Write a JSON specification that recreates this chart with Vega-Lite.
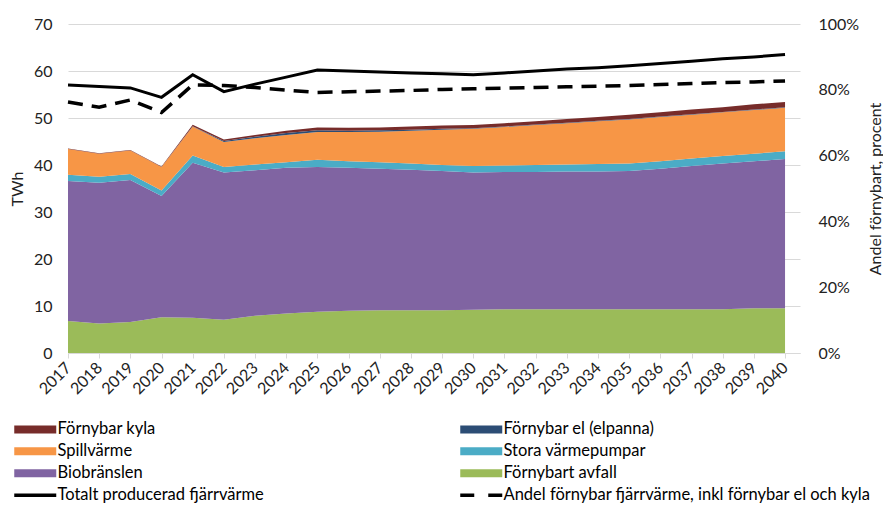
{
  "$schema": "https://vega.github.io/schema/vega-lite/v6.json",
  "width": 732,
  "height": 329,
  "autosize": "none",
  "padding": {"left": 68, "top": 24, "right": 83, "bottom": 152},
  "config": {
    "view": {"stroke": null},
    "font": "Lato",
    "axis": {"labelFont": "Lato", "titleFont": "Lato", "labelFontSize": 16, "titleFontSize": 16, "labelColor": "#222", "titleColor": "#222", "titleFontWeight": "normal"}
  },
  "datasets": {
    "stack": [
      {"year":2017,"series":"Förnybart avfall","value":6.8,"k":1},{"year":2017,"series":"Biobränslen","value":29.8,"k":2},{"year":2017,"series":"Stora värmepumpar","value":1.3,"k":3},{"year":2017,"series":"Spillvärme","value":5.5,"k":4},{"year":2017,"series":"Förnybar el (elpanna)","value":0,"k":5},{"year":2017,"series":"Förnybar kyla","value":0.1,"k":6},
      {"year":2018,"series":"Förnybart avfall","value":6.3,"k":1},{"year":2018,"series":"Biobränslen","value":29.9,"k":2},{"year":2018,"series":"Stora värmepumpar","value":1.3,"k":3},{"year":2018,"series":"Spillvärme","value":4.9,"k":4},{"year":2018,"series":"Förnybar el (elpanna)","value":0,"k":5},{"year":2018,"series":"Förnybar kyla","value":0.1,"k":6},
      {"year":2019,"series":"Förnybart avfall","value":6.6,"k":1},{"year":2019,"series":"Biobränslen","value":30.2,"k":2},{"year":2019,"series":"Stora värmepumpar","value":1.3,"k":3},{"year":2019,"series":"Spillvärme","value":5.0,"k":4},{"year":2019,"series":"Förnybar el (elpanna)","value":0,"k":5},{"year":2019,"series":"Förnybar kyla","value":0.1,"k":6},
      {"year":2020,"series":"Förnybart avfall","value":7.6,"k":1},{"year":2020,"series":"Biobränslen","value":25.8,"k":2},{"year":2020,"series":"Stora värmepumpar","value":1.2,"k":3},{"year":2020,"series":"Spillvärme","value":5.0,"k":4},{"year":2020,"series":"Förnybar el (elpanna)","value":0,"k":5},{"year":2020,"series":"Förnybar kyla","value":0.1,"k":6},
      {"year":2021,"series":"Förnybart avfall","value":7.5,"k":1},{"year":2021,"series":"Biobränslen","value":33.0,"k":2},{"year":2021,"series":"Stora värmepumpar","value":1.5,"k":3},{"year":2021,"series":"Spillvärme","value":6.2,"k":4},{"year":2021,"series":"Förnybar el (elpanna)","value":0.05,"k":5},{"year":2021,"series":"Förnybar kyla","value":0.3,"k":6},
      {"year":2022,"series":"Förnybart avfall","value":7.1,"k":1},{"year":2022,"series":"Biobränslen","value":31.3,"k":2},{"year":2022,"series":"Stora värmepumpar","value":1.2,"k":3},{"year":2022,"series":"Spillvärme","value":5.3,"k":4},{"year":2022,"series":"Förnybar el (elpanna)","value":0.2,"k":5},{"year":2022,"series":"Förnybar kyla","value":0.3,"k":6},
      {"year":2023,"series":"Förnybart avfall","value":7.9,"k":1},{"year":2023,"series":"Biobränslen","value":31.0,"k":2},{"year":2023,"series":"Stora värmepumpar","value":1.2,"k":3},{"year":2023,"series":"Spillvärme","value":5.6,"k":4},{"year":2023,"series":"Förnybar el (elpanna)","value":0.3,"k":5},{"year":2023,"series":"Förnybar kyla","value":0.4,"k":6},
      {"year":2024,"series":"Förnybart avfall","value":8.4,"k":1},{"year":2024,"series":"Biobränslen","value":31.0,"k":2},{"year":2024,"series":"Stora värmepumpar","value":1.2,"k":3},{"year":2024,"series":"Spillvärme","value":5.8,"k":4},{"year":2024,"series":"Förnybar el (elpanna)","value":0.4,"k":5},{"year":2024,"series":"Förnybar kyla","value":0.5,"k":6},
      {"year":2025,"series":"Förnybart avfall","value":8.8,"k":1},{"year":2025,"series":"Biobränslen","value":30.8,"k":2},{"year":2025,"series":"Stora värmepumpar","value":1.5,"k":3},{"year":2025,"series":"Spillvärme","value":5.9,"k":4},{"year":2025,"series":"Förnybar el (elpanna)","value":0.4,"k":5},{"year":2025,"series":"Förnybar kyla","value":0.6,"k":6},
      {"year":2026,"series":"Förnybart avfall","value":9.0,"k":1},{"year":2026,"series":"Biobränslen","value":30.4,"k":2},{"year":2026,"series":"Stora värmepumpar","value":1.4,"k":3},{"year":2026,"series":"Spillvärme","value":6.2,"k":4},{"year":2026,"series":"Förnybar el (elpanna)","value":0.3,"k":5},{"year":2026,"series":"Förnybar kyla","value":0.6,"k":6},
      {"year":2027,"series":"Förnybart avfall","value":9.1,"k":1},{"year":2027,"series":"Biobränslen","value":30.1,"k":2},{"year":2027,"series":"Stora värmepumpar","value":1.4,"k":3},{"year":2027,"series":"Spillvärme","value":6.5,"k":4},{"year":2027,"series":"Förnybar el (elpanna)","value":0.3,"k":5},{"year":2027,"series":"Förnybar kyla","value":0.6,"k":6},
      {"year":2028,"series":"Förnybart avfall","value":9.1,"k":1},{"year":2028,"series":"Biobränslen","value":29.9,"k":2},{"year":2028,"series":"Stora värmepumpar","value":1.3,"k":3},{"year":2028,"series":"Spillvärme","value":7.0,"k":4},{"year":2028,"series":"Förnybar el (elpanna)","value":0.2,"k":5},{"year":2028,"series":"Förnybar kyla","value":0.7,"k":6},
      {"year":2029,"series":"Förnybart avfall","value":9.1,"k":1},{"year":2029,"series":"Biobränslen","value":29.6,"k":2},{"year":2029,"series":"Stora värmepumpar","value":1.3,"k":3},{"year":2029,"series":"Spillvärme","value":7.5,"k":4},{"year":2029,"series":"Förnybar el (elpanna)","value":0.2,"k":5},{"year":2029,"series":"Förnybar kyla","value":0.7,"k":6},
      {"year":2030,"series":"Förnybart avfall","value":9.2,"k":1},{"year":2030,"series":"Biobränslen","value":29.2,"k":2},{"year":2030,"series":"Stora värmepumpar","value":1.4,"k":3},{"year":2030,"series":"Spillvärme","value":7.9,"k":4},{"year":2030,"series":"Förnybar el (elpanna)","value":0.1,"k":5},{"year":2030,"series":"Förnybar kyla","value":0.7,"k":6},
      {"year":2031,"series":"Förnybart avfall","value":9.3,"k":1},{"year":2031,"series":"Biobränslen","value":29.2,"k":2},{"year":2031,"series":"Stora värmepumpar","value":1.4,"k":3},{"year":2031,"series":"Spillvärme","value":8.2,"k":4},{"year":2031,"series":"Förnybar el (elpanna)","value":0.1,"k":5},{"year":2031,"series":"Förnybar kyla","value":0.7,"k":6},
      {"year":2032,"series":"Förnybart avfall","value":9.3,"k":1},{"year":2032,"series":"Biobränslen","value":29.2,"k":2},{"year":2032,"series":"Stora värmepumpar","value":1.5,"k":3},{"year":2032,"series":"Spillvärme","value":8.5,"k":4},{"year":2032,"series":"Förnybar el (elpanna)","value":0.1,"k":5},{"year":2032,"series":"Förnybar kyla","value":0.7,"k":6},
      {"year":2033,"series":"Förnybart avfall","value":9.3,"k":1},{"year":2033,"series":"Biobränslen","value":29.3,"k":2},{"year":2033,"series":"Stora värmepumpar","value":1.5,"k":3},{"year":2033,"series":"Spillvärme","value":8.8,"k":4},{"year":2033,"series":"Förnybar el (elpanna)","value":0.1,"k":5},{"year":2033,"series":"Förnybar kyla","value":0.8,"k":6},
      {"year":2034,"series":"Förnybart avfall","value":9.3,"k":1},{"year":2034,"series":"Biobränslen","value":29.3,"k":2},{"year":2034,"series":"Stora värmepumpar","value":1.6,"k":3},{"year":2034,"series":"Spillvärme","value":9.1,"k":4},{"year":2034,"series":"Förnybar el (elpanna)","value":0.1,"k":5},{"year":2034,"series":"Förnybar kyla","value":0.8,"k":6},
      {"year":2035,"series":"Förnybart avfall","value":9.3,"k":1},{"year":2035,"series":"Biobränslen","value":29.4,"k":2},{"year":2035,"series":"Stora värmepumpar","value":1.6,"k":3},{"year":2035,"series":"Spillvärme","value":9.4,"k":4},{"year":2035,"series":"Förnybar el (elpanna)","value":0.1,"k":5},{"year":2035,"series":"Förnybar kyla","value":0.9,"k":6},
      {"year":2036,"series":"Förnybart avfall","value":9.3,"k":1},{"year":2036,"series":"Biobränslen","value":29.9,"k":2},{"year":2036,"series":"Stora värmepumpar","value":1.6,"k":3},{"year":2036,"series":"Spillvärme","value":9.4,"k":4},{"year":2036,"series":"Förnybar el (elpanna)","value":0.1,"k":5},{"year":2036,"series":"Förnybar kyla","value":0.9,"k":6},
      {"year":2037,"series":"Förnybart avfall","value":9.3,"k":1},{"year":2037,"series":"Biobränslen","value":30.5,"k":2},{"year":2037,"series":"Stora värmepumpar","value":1.6,"k":3},{"year":2037,"series":"Spillvärme","value":9.3,"k":4},{"year":2037,"series":"Förnybar el (elpanna)","value":0.1,"k":5},{"year":2037,"series":"Förnybar kyla","value":1.0,"k":6},
      {"year":2038,"series":"Förnybart avfall","value":9.3,"k":1},{"year":2038,"series":"Biobränslen","value":31.0,"k":2},{"year":2038,"series":"Stora värmepumpar","value":1.6,"k":3},{"year":2038,"series":"Spillvärme","value":9.3,"k":4},{"year":2038,"series":"Förnybar el (elpanna)","value":0.1,"k":5},{"year":2038,"series":"Förnybar kyla","value":1.0,"k":6},
      {"year":2039,"series":"Förnybart avfall","value":9.5,"k":1},{"year":2039,"series":"Biobränslen","value":31.3,"k":2},{"year":2039,"series":"Stora värmepumpar","value":1.6,"k":3},{"year":2039,"series":"Spillvärme","value":9.3,"k":4},{"year":2039,"series":"Förnybar el (elpanna)","value":0.1,"k":5},{"year":2039,"series":"Förnybar kyla","value":1.1,"k":6},
      {"year":2040,"series":"Förnybart avfall","value":9.5,"k":1},{"year":2040,"series":"Biobränslen","value":31.8,"k":2},{"year":2040,"series":"Stora värmepumpar","value":1.6,"k":3},{"year":2040,"series":"Spillvärme","value":9.3,"k":4},{"year":2040,"series":"Förnybar el (elpanna)","value":0.1,"k":5},{"year":2040,"series":"Förnybar kyla","value":1.1,"k":6}
    ],
    "total": [
      {"year":2017,"series":"Totalt producerad fjärrvärme","value":57.0},{"year":2018,"series":"Totalt producerad fjärrvärme","value":56.7},{"year":2019,"series":"Totalt producerad fjärrvärme","value":56.4},{"year":2020,"series":"Totalt producerad fjärrvärme","value":54.4},{"year":2021,"series":"Totalt producerad fjärrvärme","value":59.2},{"year":2022,"series":"Totalt producerad fjärrvärme","value":55.6},{"year":2023,"series":"Totalt producerad fjärrvärme","value":57.2},{"year":2024,"series":"Totalt producerad fjärrvärme","value":58.7},{"year":2025,"series":"Totalt producerad fjärrvärme","value":60.2},{"year":2026,"series":"Totalt producerad fjärrvärme","value":60.0},{"year":2027,"series":"Totalt producerad fjärrvärme","value":59.8},{"year":2028,"series":"Totalt producerad fjärrvärme","value":59.6},{"year":2029,"series":"Totalt producerad fjärrvärme","value":59.4},{"year":2030,"series":"Totalt producerad fjärrvärme","value":59.2},{"year":2031,"series":"Totalt producerad fjärrvärme","value":59.6},{"year":2032,"series":"Totalt producerad fjärrvärme","value":60.0},{"year":2033,"series":"Totalt producerad fjärrvärme","value":60.4},{"year":2034,"series":"Totalt producerad fjärrvärme","value":60.7},{"year":2035,"series":"Totalt producerad fjärrvärme","value":61.1},{"year":2036,"series":"Totalt producerad fjärrvärme","value":61.6},{"year":2037,"series":"Totalt producerad fjärrvärme","value":62.1},{"year":2038,"series":"Totalt producerad fjärrvärme","value":62.6},{"year":2039,"series":"Totalt producerad fjärrvärme","value":63.0},{"year":2040,"series":"Totalt producerad fjärrvärme","value":63.5}
    ],
    "andel": [
      {"year":2017,"series":"Andel förnybar fjärrvärme, inkl förnybar el och kyla","value":0.763},{"year":2018,"series":"Andel förnybar fjärrvärme, inkl förnybar el och kyla","value":0.747},{"year":2019,"series":"Andel förnybar fjärrvärme, inkl förnybar el och kyla","value":0.769},{"year":2020,"series":"Andel förnybar fjärrvärme, inkl förnybar el och kyla","value":0.731},{"year":2021,"series":"Andel förnybar fjärrvärme, inkl förnybar el och kyla","value":0.815},{"year":2022,"series":"Andel förnybar fjärrvärme, inkl förnybar el och kyla","value":0.813},{"year":2023,"series":"Andel förnybar fjärrvärme, inkl förnybar el och kyla","value":0.807},{"year":2024,"series":"Andel förnybar fjärrvärme, inkl förnybar el och kyla","value":0.799},{"year":2025,"series":"Andel förnybar fjärrvärme, inkl förnybar el och kyla","value":0.792},{"year":2026,"series":"Andel förnybar fjärrvärme, inkl förnybar el och kyla","value":0.794},{"year":2027,"series":"Andel förnybar fjärrvärme, inkl förnybar el och kyla","value":0.796},{"year":2028,"series":"Andel förnybar fjärrvärme, inkl förnybar el och kyla","value":0.798},{"year":2029,"series":"Andel förnybar fjärrvärme, inkl förnybar el och kyla","value":0.801},{"year":2030,"series":"Andel förnybar fjärrvärme, inkl förnybar el och kyla","value":0.803},{"year":2031,"series":"Andel förnybar fjärrvärme, inkl förnybar el och kyla","value":0.805},{"year":2032,"series":"Andel förnybar fjärrvärme, inkl förnybar el och kyla","value":0.807},{"year":2033,"series":"Andel förnybar fjärrvärme, inkl förnybar el och kyla","value":0.809},{"year":2034,"series":"Andel förnybar fjärrvärme, inkl förnybar el och kyla","value":0.811},{"year":2035,"series":"Andel förnybar fjärrvärme, inkl förnybar el och kyla","value":0.813},{"year":2036,"series":"Andel förnybar fjärrvärme, inkl förnybar el och kyla","value":0.816},{"year":2037,"series":"Andel förnybar fjärrvärme, inkl förnybar el och kyla","value":0.819},{"year":2038,"series":"Andel förnybar fjärrvärme, inkl förnybar el och kyla","value":0.822},{"year":2039,"series":"Andel förnybar fjärrvärme, inkl förnybar el och kyla","value":0.824},{"year":2040,"series":"Andel förnybar fjärrvärme, inkl förnybar el och kyla","value":0.827}
    ]
  },
  "encoding": {
    "x": {"field": "year", "type": "quantitative", "scale": {"domain": [2017, 2040.48], "nice": false, "zero": false},
      "axis": {"values": [2017,2018,2019,2020,2021,2022,2023,2024,2025,2026,2027,2028,2029,2030,2031,2032,2033,2034,2035,2036,2037,2038,2039,2040], "format": "d", "title": null, "grid": false, "labelAngle": -45, "labelAlign": "right", "labelBaseline": "middle", "labelPadding": 7, "domainColor": "#d9d9d9", "tickColor": "#d9d9d9", "tickSize": 5, "labelOverlap": false, "labelBound": false, "labelFlush": false}},
    "color": {"field": "series", "type": "nominal",
      "scale": {"domain": ["Förnybar kyla", "Förnybar el (elpanna)", "Spillvärme", "Stora värmepumpar", "Biobränslen", "Förnybart avfall", "Totalt producerad fjärrvärme", "Andel förnybar fjärrvärme, inkl förnybar el och kyla"],
        "range": ["#772C2A", "#2C4D75", "#F79646", "#4BACC6", "#8064A2", "#9BBB59", "#000000", "#000000"]},
      "legend": {
        "orient": "none", "legendX": -52, "legendY": 397, "columns": 2, "direction": "horizontal", "title": null,
        "symbolType": "M-1,-0.4H3.2V0.4H-1Z", "symbolSize": 400, "rowPadding": 5, "columnPadding": 189,
        "labelFont": "Lato", "labelFontSize": 16.5, "labelColor": "#000", "labelOffset": 25, "labelLimit": 600,
        "encode": {"symbols": {"update": {
          "shape": {"signal": "datum.value == 'Totalt producerad fjärrvärme' || datum.value == 'Andel förnybar fjärrvärme, inkl förnybar el och kyla' ? 'M-1,0H3.2' : 'M-1,-0.4H3.2V0.4H-1Z'"},
          "fill": {"signal": "datum.value == 'Totalt producerad fjärrvärme' || datum.value == 'Andel förnybar fjärrvärme, inkl förnybar el och kyla' ? 'transparent' : scale('color', datum.value)"},
          "stroke": {"signal": "scale('color', datum.value)"},
          "strokeWidth": {"signal": "datum.value == 'Totalt producerad fjärrvärme' || datum.value == 'Andel förnybar fjärrvärme, inkl förnybar el och kyla' ? 3.5 : 0"},
          "strokeDash": {"signal": "datum.value == 'Andel förnybar fjärrvärme, inkl förnybar el och kyla' ? [14, 14] : [1, 0]"},
          "opacity": {"value": 1},
          "fillOpacity": {"value": 1}
        }}}
      }}
  },
  "layer": [
    {
      "layer": [
        {
          "data": {"name": "stack"},
          "mark": {"type": "area", "interpolate": "linear"},
          "encoding": {
            "y": {"field": "value", "type": "quantitative", "stack": "zero", "scale": {"domain": [0, 70], "nice": false},
              "axis": {"values": [0,10,20,30,40,50,60,70], "title": "TWh", "grid": true, "gridColor": "#d9d9d9", "domain": false, "ticks": false, "labelPadding": 16, "titlePadding": 8}},
            "order": {"field": "k", "type": "quantitative"}
          }
        },
        {
          "data": {"name": "total"},
          "mark": {"type": "line", "strokeWidth": 3},
          "encoding": {
            "y": {"field": "value", "type": "quantitative"}
          }
        }
      ]
    },
    {
      "data": {"name": "andel"},
      "mark": {"type": "line", "strokeWidth": 3.5, "strokeDash": [15, 9]},
      "encoding": {
        "y": {"field": "value", "type": "quantitative", "scale": {"domain": [0, 1], "nice": false},
          "axis": {"orient": "right", "values": [0, 0.2, 0.4, 0.6, 0.8, 1], "format": ".0%", "title": "Andel förnybart, procent", "titleAngle": -90, "grid": false, "domain": false, "ticks": false, "labelPadding": 18, "titlePadding": 25}}
      }
    }
  ],
  "resolve": {"scale": {"y": "independent"}}
}
